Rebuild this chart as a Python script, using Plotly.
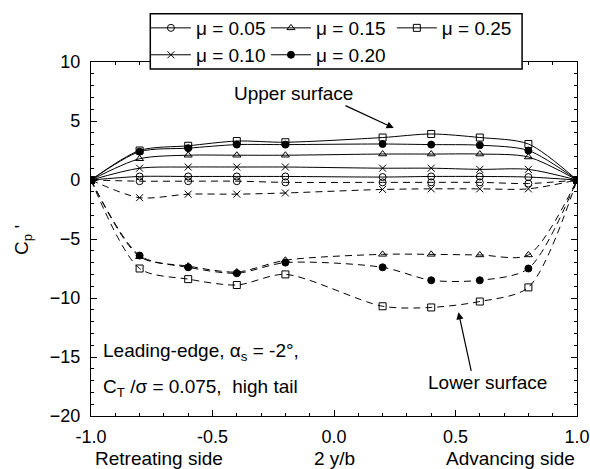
import plotly.graph_objects as go

x_pos = [-1.0, -0.8, -0.6, -0.4, -0.2, 0.2, 0.4, 0.6, 0.8, 1.0]
mu_labels = ["0.05", "0.10", "0.15", "0.20", "0.25"]

upper_005 = [0.0, 0.3, 0.3, 0.3, 0.3, 0.25, 0.3, 0.3, 0.25, 0.0]
upper_010 = [0.0, 1.0, 1.1, 1.1, 1.1, 1.0, 1.0, 0.9, 0.9, 0.0]
upper_015 = [0.0, 1.8, 2.1, 2.1, 2.1, 2.2, 2.2, 2.2, 1.95, 0.0]
upper_020 = [0.0, 2.4, 2.7, 3.0, 3.0, 3.05, 3.0, 2.95, 2.5, 0.0]
upper_025 = [0.0, 2.5, 2.9, 3.3, 3.2, 3.6, 3.9, 3.6, 3.05, 0.0]

lower_005 = [0.0, -0.1, -0.1, -0.1, -0.2, -0.2, -0.2, -0.2, -0.3, 0.0]
lower_010 = [0.0, -1.5, -1.2, -1.2, -1.1, -0.8, -0.75, -0.75, -0.75, 0.0]
lower_015 = [0.0, -6.5, -7.3, -7.8, -6.8, -6.3, -6.3, -6.35, -6.35, 0.0]
lower_020 = [0.0, -6.4, -7.4, -7.9, -7.0, -7.4, -8.5, -8.5, -7.5, 0.0]
lower_025 = [0.0, -7.5, -8.4, -8.9, -8.0, -10.7, -10.8, -10.3, -9.1, 0.0]

x_ticks = [-1.0, -0.5, 0.0, 0.5, 1.0]
x_ticktext = ["-1.0", "-0.5", "0.0", "0.5", "1.0"]
y_ticks = [10, 5, 0, -5, -10, -15, -20]

# (mu, upper, lower, marker symbol, legend id, legend x, legend y)
series = [
    ("0.05", upper_005, lower_005, "circle-open", "legend", 0.1130, 1.096),
    ("0.15", upper_015, lower_015, "triangle-up-open", "legend2", 0.3600, 1.096),
    ("0.25", upper_025, lower_025, "square-open", "legend3", 0.6190, 1.096),
    ("0.10", upper_010, lower_010, "x-thin-open", "legend4", 0.1130, 1.020),
    ("0.20", upper_020, lower_020, "circle", "legend5", 0.3600, 1.020),
]

FONT = "Liberation Sans, Arial, sans-serif"
fig = go.Figure()
for mu, up, lo, sym, leg, lx, ly in series:
    mk = dict(symbol=sym, size=7, color="black", line=dict(color="black", width=1))
    fig.add_trace(go.Scatter(
        x=x_pos, y=up, mode="lines+markers", name="\u03bc = " + mu,
        line=dict(color="black", width=1, shape="spline", smoothing=0.8),
        marker=mk, legend=leg, legendgroup=mu, showlegend=True))
    fig.add_trace(go.Scatter(
        x=x_pos, y=lo, mode="lines+markers", name="\u03bc = " + mu,
        line=dict(color="black", width=1, dash="7px,5px", shape="spline", smoothing=0.8),
        marker=mk, legend=leg, legendgroup=mu, showlegend=False))

axis_common = dict(showline=True, linecolor="black", linewidth=1.2, mirror="ticks",
                   ticks="inside", ticklen=6, tickwidth=1, tickcolor="black",
                   showgrid=False, zeroline=False, ticklabeloverflow="allow",
                   automargin=False,
                   tickfont=dict(family=FONT, size=18, color="black"))

fig.update_xaxes(range=[-1, 1], tickvals=x_ticks, ticktext=x_ticktext,
                 ticklabelstandoff=4,
                 minor=dict(ticks="inside", ticklen=3, dtick=0.1, tickcolor="black"),
                 **axis_common)
fig.update_yaxes(range=[-20, 10], tickvals=y_ticks, ticklabelstandoff=6,
                 minor=dict(ticks="inside", ticklen=3, dtick=1, tickcolor="black"),
                 **axis_common)

ann = []
af = dict(family=FONT, size=19, color="black")
ann.append(dict(x=-0.168, y=7.3, xref="x", yref="y", text="Upper surface",
                showarrow=False, font=af, yanchor="middle"))
ann.append(dict(x=0.246, y=4.4, ax=0.041, ay=6.36, xref="x", yref="y", axref="x", ayref="y",
                text="", showarrow=True, arrowhead=2, arrowsize=1.2, arrowwidth=1.2,
                arrowcolor="black"))
ann.append(dict(x=0.631, y=-17.2, xref="x", yref="y", text="Lower surface",
                showarrow=False, font=af, yanchor="middle"))
ann.append(dict(x=0.512, y=-11.2, ax=0.566, ay=-16.3, xref="x", yref="y", axref="x", ayref="y",
                text="", showarrow=True, arrowhead=2, arrowsize=1.2, arrowwidth=1.2,
                arrowcolor="black"))
ann.append(dict(x=-0.958, y=-14.6, xref="x", yref="y", xanchor="left", yanchor="middle",
                text="Leading-edge, \u03b1<sub>s</sub> = -2\u00b0,", showarrow=False, font=af))
ann.append(dict(x=-0.958, y=-17.6, xref="x", yref="y", xanchor="left", yanchor="middle",
                text="C<sub>T</sub> /\u03c3 = 0.075,\u00a0 high tail", showarrow=False, font=af))
ann.append(dict(x=0.004, y=-0.119, xref="paper", yref="paper", xanchor="left", yanchor="middle",
                text="Retreating side", showarrow=False, font=af))
ann.append(dict(x=0.5, y=-0.119, xref="paper", yref="paper", yanchor="middle",
                text="2 y/b", showarrow=False, font=af))
ann.append(dict(x=1.0, y=-0.119, xref="paper", yref="paper", xanchor="right", yanchor="middle",
                text="Advancing side", showarrow=False, font=af))
ann.append(dict(x=-0.14, y=0.497, xref="paper", yref="paper", textangle=-90,
                xanchor="center", yanchor="middle",
                text="C<sub>p</sub> '", showarrow=False, font=af))

legend_common = dict(orientation="h", xanchor="left", yanchor="middle",
                     bgcolor="rgba(0,0,0,0)", borderwidth=0,
                     font=dict(family=FONT, size=19, color="black"),
                     itemwidth=40, tracegroupgap=0)

legends = {}
for mu, up, lo, sym, leg, lx, ly in series:
    legends[leg] = dict(x=lx, y=ly, **legend_common)

fig.update_layout(
    width=590, height=469,
    margin=dict(l=91, r=13, t=62, b=53, autoexpand=False),
    paper_bgcolor="white", plot_bgcolor="white",
    font=dict(family=FONT, color="black"),
    annotations=ann,
    shapes=[dict(type="rect", xref="paper", yref="paper", x0=0.122, x1=0.887,
                 y0=0.980, y1=1.136, line=dict(color="black", width=1.5),
                 fillcolor="white", layer="above")],
    **legends,
)

fig.write_html("out.html")
